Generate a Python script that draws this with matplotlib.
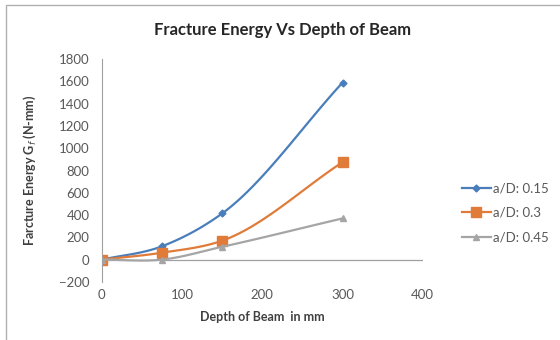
import numpy as np
import matplotlib.pyplot as plt
from matplotlib.patches import Rectangle

depth = [0, 75, 150, 300]
energy_015 = [0, 120, 415, 1590]
energy_03 = [0, 62, 170, 875]
energy_045 = [0, 0, 115, 370]
labels = ['a/D: 0.15', 'a/D: 0.3', 'a/D: 0.45']


def smooth(x, y, n=40):
    # cubic Hermite curve in x, tangents from neighbouring slopes
    x = np.asarray(x, float)
    y = np.asarray(y, float)
    h = np.diff(x)
    d = np.diff(y) / h
    m = np.empty_like(y)
    m[0], m[-1] = d[0], d[-1]
    m[1:-1] = (d[:-1] * h[1:] + d[1:] * h[:-1]) / (h[:-1] + h[1:])
    xs, ys = [], []
    for i in range(len(x) - 1):
        t = np.linspace(0, 1, n)
        h00 = 2 * t ** 3 - 3 * t ** 2 + 1
        h10 = t ** 3 - 2 * t ** 2 + t
        h01 = -2 * t ** 3 + 3 * t ** 2
        h11 = t ** 3 - t ** 2
        xs.extend(x[i] + t * h[i])
        ys.extend(h00 * y[i] + h10 * h[i] * m[i] + h01 * y[i + 1] + h11 * h[i] * m[i + 1])
    return xs, ys


plt.rcParams['font.family'] = ['Lato', 'DejaVu Sans']

fig = plt.figure(figsize=(5.6, 3.4), dpi=100)
fig.patches.append(Rectangle((6 / 560, -0.1), 1.2, 1.1 - 5 / 340, transform=fig.transFigure,
                             fill=False, edgecolor='#b0b0b0', linewidth=1.0))
ax = fig.add_axes([0.182, 0.171, 0.573, 0.655])

series = [
    (energy_015, '#4a7ebb', 'D', 3.5),
    (energy_03, '#e07b39', 's', 6.5),
    (energy_045, '#a5a5a5', '^', 5),
]
for (vals, color, marker, ms), lab in zip(series, labels):
    sx, sy = smooth(depth, vals)
    ax.plot(sx, sy, color=color, linewidth=1.6)
    ax.plot(depth, vals, linestyle='none', marker=marker, color=color, markersize=ms)
    ax.plot([], [], color=color, linewidth=1.6, marker=marker, markersize=ms, label=lab)

ax.axhline(0, color='#a0a0a0', linewidth=0.9, zorder=0)
ax.set_xlim(0, 400)
ax.set_ylim(-200, 1800)
ax.set_xticks([0, 100, 200, 300, 400])
ax.set_yticks(range(-200, 1801, 200))
for s in ['top', 'right', 'bottom']:
    ax.spines[s].set_visible(False)
ax.spines['left'].set_color('#a0a0a0')
ax.tick_params(axis='x', length=0, labelsize=9.5, colors='#595959', pad=5)
ax.tick_params(axis='y', length=0, labelsize=9.5, colors='#595959', pad=9)

fig.text(283 / 560, 1 - 30 / 340, 'Fracture Energy Vs Depth of Beam', fontsize=12,
         fontweight='bold', color='#262626', ha='center', va='center')
ax.set_xlabel('Depth of Beam  in mm', fontsize=9, fontweight='bold', color='#404040', labelpad=7)
ax.set_ylabel('Farcture Energy G$_f$ (N-mm)', fontsize=9, fontweight='bold', color='#404040')
ax.yaxis.set_label_coords(-0.2, 0.5)

leg = ax.legend(loc='center left', bbox_to_anchor=(1.085, 0.31), frameon=False,
                fontsize=9.5, labelspacing=0.95, handlelength=2.2, handletextpad=0.15)
for t in leg.get_texts():
    t.set_color('#595959')

fig.savefig('out.png', dpi=100)
